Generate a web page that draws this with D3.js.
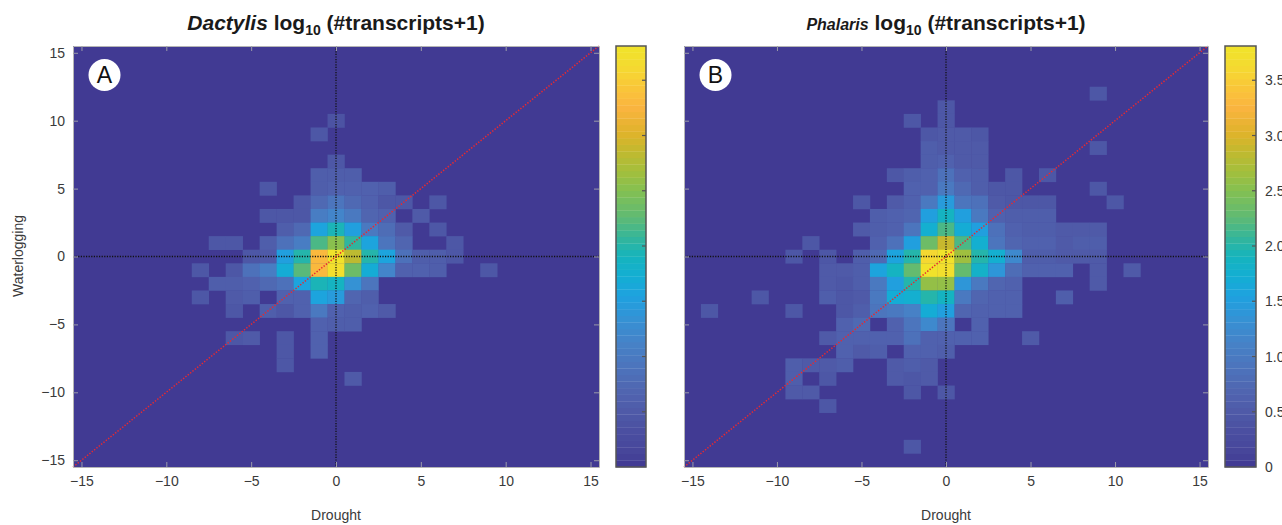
<!DOCTYPE html>
<html><head><meta charset="utf-8">
<script src="https://cdn.jsdelivr.net/npm/d3@7"></script>
<style>body{margin:0;background:#fff} svg{display:block} text{font-family:"Liberation Sans",Arial,Helvetica,sans-serif}</style>
</head><body><svg id="c" width="1282" height="525"></svg>
<script>
// ---------- data ----------
const axisTicks = [-15, -10, -5, 0, 5, 10, 15];
const colorTicks = [0, 0.5, 1, 1.5, 2, 2.5, 3, 3.5];
const colorTickLabels = ["0", "0.5", "1.0", "1.5", "2.0", "2.5", "3.0", "3.5"];
const colorMax = 3.81;
const binDomain = [-15.5, 15.5];
// [drought bin, waterlogging bin, log10(#transcripts+1)]
const dactylisCells = [
  [0,10,0.4],[-1,9,0.45],[0,7,0.45],
  [-1,6,0.55],[0,6,0.55],[1,6,0.55],
  [-4,5,0.45],[-1,5,0.55],[0,5,0.65],[1,5,0.65],[2,5,0.65],[3,5,0.55],
  [-2,4,0.45],[-1,4,0.75],[0,4,0.95],[1,4,0.75],[2,4,0.65],[3,4,0.45],[4,4,0.45],[6,4,0.45],
  [-4,3,0.45],[-3,3,0.45],[-2,3,0.45],[-1,3,1.05],[0,3,1.15],[1,3,1.0],[2,3,0.7],[3,3,0.65],[5,3,0.5],
  [-3,2,0.55],[-2,2,0.75],[-1,2,1.6],[0,2,1.95],[1,2,1.5],[2,2,1.0],[3,2,0.8],[4,2,0.5],[6,2,0.45],
  [-7,1,0.45],[-6,1,0.45],[-4,1,0.55],[-3,1,0.85],[-2,1,1.05],[-1,1,2.15],[0,1,2.55],[1,1,2.05],[2,1,1.55],[3,1,0.9],[4,1,0.7],[7,1,0.45],
  [-5,0,0.45],[-4,0,0.5],[-3,0,1.5],[-2,0,2.0],[-1,0,3.3],[0,0,3.8],[1,0,2.85],[2,0,2.0],[3,0,1.55],[4,0,0.85],[5,0,0.55],[6,0,0.55],[7,0,0.45],
  [-8,-1,0.45],[-6,-1,0.45],[-5,-1,0.85],[-4,-1,1.05],[-3,-1,1.7],[-2,-1,2.25],[-1,-1,3.3],[0,-1,3.7],[1,-1,2.35],[2,-1,1.7],[3,-1,1.15],[4,-1,0.65],[5,-1,0.6],[6,-1,0.55],[9,-1,0.45],
  [-7,-2,0.55],[-6,-2,0.55],[-5,-2,0.65],[-4,-2,0.75],[-3,-2,0.85],[-2,-2,1.6],[-1,-2,1.95],[0,-2,1.9],[1,-2,1.35],[2,-2,0.95],
  [-8,-3,0.45],[-6,-3,0.5],[-5,-3,0.55],[-3,-3,0.65],[-2,-3,0.65],[-1,-3,1.6],[0,-3,1.45],[1,-3,0.7],[2,-3,0.55],
  [-6,-4,0.45],[-4,-4,0.55],[-3,-4,0.45],[-2,-4,0.6],[-1,-4,1.0],[0,-4,0.6],[1,-4,0.55],[2,-4,0.65],[3,-4,0.5],
  [-1,-5,0.65],[0,-5,0.55],[1,-5,0.55],
  [-6,-6,0.45],[-5,-6,0.5],[-3,-6,0.45],[-1,-6,0.6],
  [-3,-7,0.45],[-1,-7,0.6],
  [-3,-8,0.45],
  [1,-9,0.5]
];
const phalarisCells = [
  [9,12,0.45],[0,11,0.45],[-2,10,0.45],[0,10,0.45],
  [-1,9,0.45],[0,9,0.5],[1,9,0.5],[2,9,0.45],
  [-1,8,0.55],[0,8,0.5],[1,8,0.5],[2,8,0.5],[9,8,0.45],
  [-1,7,0.55],[0,7,0.6],[1,7,0.5],[2,7,0.5],
  [-3,6,0.45],[-2,6,0.55],[-1,6,0.6],[0,6,0.85],[1,6,0.6],[2,6,0.55],[4,6,0.45],[6,6,0.45],
  [-2,5,0.6],[-1,5,0.65],[0,5,1.0],[1,5,0.75],[2,5,0.55],[3,5,0.45],[4,5,0.45],[9,5,0.45],
  [-5,4,0.45],[-3,4,0.5],[-2,4,0.6],[-1,4,1.0],[0,4,1.45],[1,4,0.9],[2,4,0.85],[3,4,0.5],[4,4,0.45],[5,4,0.45],[6,4,0.45],[10,4,0.45],
  [-4,3,0.55],[-3,3,0.65],[-2,3,0.7],[-1,3,1.5],[0,3,1.85],[1,3,1.5],[2,3,1.0],[3,3,0.6],[4,3,0.55],[5,3,0.55],[6,3,0.55],
  [-5,2,0.5],[-4,2,0.55],[-3,2,0.65],[-2,2,0.9],[-1,2,1.75],[0,2,2.15],[1,2,1.7],[2,2,1.5],[3,2,0.85],[4,2,0.6],[5,2,0.55],[6,2,0.55],[7,2,0.5],[8,2,0.5],[9,2,0.5],
  [-8,1,0.45],[-4,1,0.6],[-3,1,0.85],[-2,1,1.5],[-1,1,2.35],[0,1,2.9],[1,1,2.2],[2,1,1.75],[3,1,0.9],[4,1,0.7],[5,1,0.65],[6,1,0.6],[7,1,0.5],[8,1,0.55],[9,1,0.55],
  [-9,0,0.45],[-7,0,0.45],[-5,0,0.55],[-4,0,0.75],[-3,0,1.55],[-2,0,2.0],[-1,0,3.6],[0,0,3.81],[1,0,2.65],[2,0,2.0],[3,0,1.75],[4,0,1.25],[5,0,0.55],[6,0,0.55],[7,0,0.5],[8,0,0.5],[9,0,0.5],
  [-7,-1,0.5],[-6,-1,0.5],[-5,-1,0.55],[-4,-1,1.6],[-3,-1,1.9],[-2,-1,2.3],[-1,-1,3.8],[0,-1,3.75],[1,-1,2.3],[2,-1,1.8],[3,-1,1.4],[4,-1,0.8],[5,-1,0.6],[6,-1,0.6],[7,-1,0.6],[9,-1,0.5],[11,-1,0.5],
  [-7,-2,0.5],[-6,-2,0.45],[-5,-2,0.55],[-4,-2,1.0],[-3,-2,1.5],[-2,-2,2.0],[-1,-2,2.6],[0,-2,2.6],[1,-2,1.4],[2,-2,1.0],[3,-2,0.7],[4,-2,0.65],[9,-2,0.5],
  [-11,-3,0.45],[-7,-3,0.55],[-6,-3,0.45],[-5,-3,0.5],[-4,-3,1.0],[-3,-3,1.7],[-2,-3,1.75],[-1,-3,2.0],[0,-3,1.9],[1,-3,1.0],[2,-3,0.7],[3,-3,0.6],[4,-3,0.65],[7,-3,0.55],
  [-14,-4,0.45],[-9,-4,0.45],[-6,-4,0.45],[-5,-4,0.55],[-4,-4,0.9],[-3,-4,1.0],[-2,-4,1.1],[-1,-4,1.7],[0,-4,1.5],[1,-4,0.7],[2,-4,0.6],[3,-4,0.6],[4,-4,0.6],
  [-6,-5,0.6],[-5,-5,0.75],[-3,-5,0.6],[-2,-5,0.9],[-1,-5,1.2],[0,-5,0.9],[2,-5,0.6],
  [-7,-6,0.5],[-6,-6,0.6],[-5,-6,0.6],[-4,-6,0.6],[-3,-6,0.6],[-2,-6,0.85],[-1,-6,0.6],[0,-6,0.6],[1,-6,0.6],[2,-6,0.6],[5,-6,0.5],
  [-6,-7,0.6],[-5,-7,0.5],[-4,-7,0.55],[-2,-7,0.6],[-1,-7,0.6],[0,-7,0.55],
  [-9,-8,0.55],[-8,-8,0.5],[-7,-8,0.5],[-6,-8,0.55],[-3,-8,0.5],[-2,-8,0.55],[-1,-8,0.5],
  [-9,-9,0.55],[-7,-9,0.45],[-3,-9,0.5],[-2,-9,0.45],[-1,-9,0.5],
  [-9,-10,0.5],[-8,-10,0.5],[-2,-10,0.45],[0,-10,0.45],
  [-7,-11,0.45],
  [-2,-14,0.45]
];
// colormap stops (value, colour)
const cmapStopValues = [0, 0.16, 0.34, 0.52, 0.7, 0.91, 1.12, 1.33, 1.54, 1.72, 1.9, 2.05, 2.26, 2.5, 2.66, 2.87, 3.02, 3.26, 3.5, 3.62, 3.81];
const cmapStopColors = ["#413a93", "#47479b", "#4b50a1", "#4f5ba9", "#5066b1", "#4c74bc", "#4682c7", "#3691d4", "#1fa1df", "#14aed4", "#15b4be", "#2fb5a0", "#5fba74", "#84c052", "#a1bf3e", "#c4b92e", "#dfb32b", "#fbb440", "#f8cd36", "#f4da30", "#f0e42a"];
// ---------- drawing ----------
const nC = 64;
const stopScale = d3.scaleLinear().domain(cmapStopValues).range(cmapStopColors).interpolate(d3.interpolateRgb);
const cmap = d3.range(nC).map(i => d3.color(stopScale(i === 0 ? 0 : (i + 0.5) * colorMax / nC)).formatHex());
const colorOf = v => cmap[Math.max(0, Math.min(nC-1, Math.floor(v / colorMax * nC)))];

const svg = d3.select("#c");
const panels = [
  {cells: dactylisCells, x0: 73, x1: 599, cb0: 616, cb1: 646, label: "A", yLabels: true, cbLabels: false, cx: 336},
  {cells: phalarisCells, x0: 684, x1: 1208, cb0: 1225, cb1: 1256, label: "B", yLabels: false, cbLabels: true, cx: 946}
];
const plotTop = 46, plotBottom = 467;

panels.forEach(p => {
  const x = d3.scaleLinear().domain(binDomain).range([p.x0, p.x1]);
  const y = d3.scaleLinear().domain(binDomain).range([plotBottom, plotTop]);
  const g = svg.append("g");
  g.append("rect").attr("x", p.x0).attr("y", plotTop).attr("width", p.x1 - p.x0).attr("height", plotBottom - plotTop).attr("fill", colorOf(0));
  g.selectAll("rect.cell").data(p.cells).enter().append("rect").attr("class", "cell")
    .attr("x", d => x(d[0] - 0.5)).attr("y", d => y(d[1] + 0.5))
    .attr("width", d => x(d[0] + 0.5) - x(d[0] - 0.5) + 0.3)
    .attr("height", d => y(d[1] - 0.5) - y(d[1] + 0.5) + 0.3)
    .attr("fill", d => colorOf(d[2]));
  g.append("line").attr("x1", x(0)).attr("x2", x(0)).attr("y1", plotTop).attr("y2", plotBottom)
    .attr("stroke", "#111").attr("stroke-width", 1.3).attr("stroke-dasharray", "1.2,1.4");
  g.append("line").attr("x1", p.x0).attr("x2", p.x1).attr("y1", y(0)).attr("y2", y(0))
    .attr("stroke", "#111").attr("stroke-width", 1.3).attr("stroke-dasharray", "1.2,1.4");
  g.append("line").attr("x1", x(binDomain[0])).attr("y1", y(binDomain[0])).attr("x2", x(binDomain[1])).attr("y2", y(binDomain[1]))
    .attr("stroke", "#e62a32").attr("stroke-width", 1.5).attr("stroke-dasharray", "1.4,1.6");
  const ax = [
    [d3.axisBottom(x), `translate(0,${plotBottom})`, true],
    [d3.axisTop(x), `translate(0,${plotTop})`, false],
    [d3.axisLeft(y), `translate(${p.x0},0)`, p.yLabels],
    [d3.axisRight(y), `translate(${p.x1},0)`, false]
  ];
  ax.forEach(([a, tr, showLabels], i) => {
    const ag = g.append("g").attr("transform", tr)
      .call(a.tickValues(axisTicks).tickSizeInner(-5).tickSizeOuter(0).tickPadding(i === 2 ? 8 : 9)
        .tickFormat(d => showLabels ? String(d).replace("-", "\u2212") : ""));
    ag.select(".domain").attr("stroke", "#b5b5b5");
    ag.selectAll(".tick line").attr("stroke", "#9a9aa8");
    ag.selectAll(".tick text").attr("fill", "#3a3a3a").attr("font-size", 14)
      .attr("font-family", "'Liberation Sans',Arial,sans-serif");
  });
  g.append("text").attr("x", p.cx).attr("y", 520).attr("text-anchor", "middle")
    .attr("font-size", 14).attr("fill", "#3a3a3a").text("Drought");
  g.append("circle").attr("cx", p.x0 + 31.5).attr("cy", 75).attr("r", 16).attr("fill", "#fff");
  g.append("text").attr("x", p.x0 + 31.5).attr("y", 83).attr("text-anchor", "middle")
    .attr("font-size", 23).attr("fill", "#111").text(p.label);
  const cy = d3.scaleLinear().domain([0, colorMax]).range([plotBottom, plotTop]);
  const cb = g.append("g");
  cb.selectAll("rect").data(d3.range(nC)).enter().append("rect")
    .attr("x", p.cb0).attr("width", p.cb1 - p.cb0)
    .attr("y", i => cy((i + 1) * colorMax / nC)).attr("height", i => cy(i * colorMax / nC) - cy((i + 1) * colorMax / nC) + 0.3)
    .attr("fill", i => cmap[i]);
  cb.selectAll("line").data(colorTicks.slice(1)).enter().append("line")
    .attr("x1", p.cb1 - 4).attr("x2", p.cb1).attr("y1", d => cy(d)).attr("y2", d => cy(d))
    .attr("stroke", "#555").attr("stroke-width", 1.2);
  cb.append("rect").attr("x", p.cb0).attr("y", plotTop).attr("width", p.cb1 - p.cb0).attr("height", plotBottom - plotTop)
    .attr("fill", "none").attr("stroke", "#555").attr("stroke-width", 1.5);
  if (p.cbLabels) {
    cb.selectAll("text").data(colorTicks).enter().append("text")
      .attr("x", p.cb1 + 9).attr("y", d => cy(d) + 5).attr("font-size", 14).attr("fill", "#3a3a3a")
      .text((d, i) => colorTickLabels[i]);
  }
});
svg.append("text").attr("transform", "translate(23,256) rotate(-90)").attr("text-anchor", "middle")
  .attr("font-size", 14).attr("fill", "#3a3a3a").text("Waterlogging");
const tA = svg.append("text").attr("x", 336).attr("y", 30).attr("text-anchor", "middle")
  .attr("font-size", 21).attr("font-weight", "bold").attr("fill", "#1a1a1a");
tA.append("tspan").attr("font-style", "italic").text("Dactylis");
tA.append("tspan").text(" log");
tA.append("tspan").attr("font-size", 14).attr("dy", 5).text("10");
tA.append("tspan").attr("dy", -5).text(" (#transcripts+1)");
const tB = svg.append("text").attr("x", 946).attr("y", 30).attr("text-anchor", "middle")
  .attr("font-size", 21).attr("font-weight", "bold").attr("fill", "#1a1a1a");
tB.append("tspan").attr("font-style", "italic").attr("font-size", 16).text("Phalaris");
tB.append("tspan").text(" log");
tB.append("tspan").attr("font-size", 14).attr("dy", 5).text("10");
tB.append("tspan").attr("dy", -5).text(" (#transcripts+1)");
</script></body></html>
